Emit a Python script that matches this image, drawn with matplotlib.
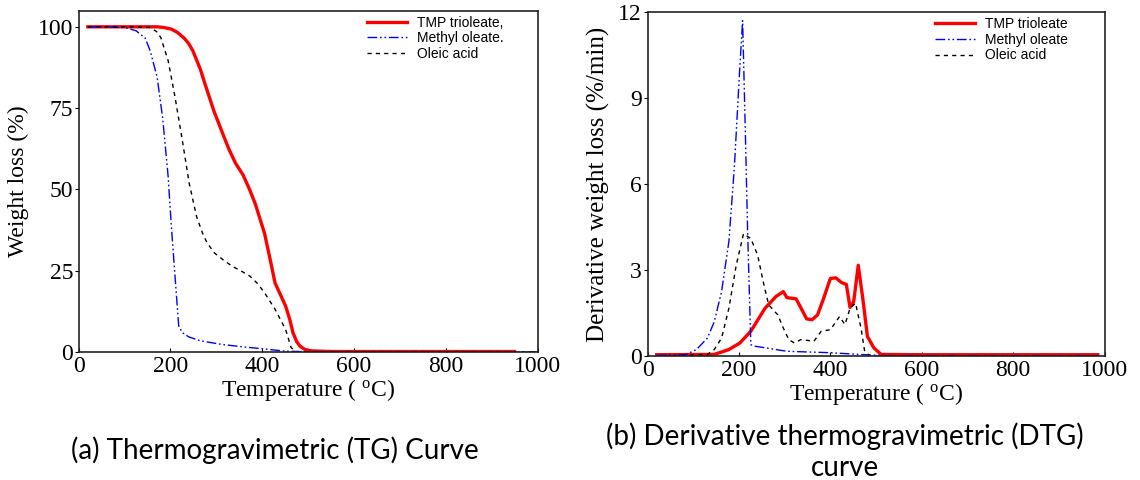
import matplotlib
matplotlib.use("Agg")
import matplotlib.pyplot as plt

# TG curves (temperature in deg C, weight in %)
tg_tmp_t = [20, 100, 170, 185, 202, 215, 230, 240, 249, 265, 280, 295, 311, 327, 342, 358, 373, 385,
            395, 405, 418, 428, 440, 451, 460, 467, 475, 482, 492, 506, 550, 700, 950]
tg_tmp_w = [100, 100, 100, 99.8, 99.3, 98.3, 96.5, 94.8, 92.6, 87, 80.4, 74, 68.2, 62.5, 58, 54.5, 49.8, 45.5,
            41, 36.5, 28, 21.2, 17.5, 14.1, 10, 5.9, 3.2, 1.8, 0.8, 0.3, 0.1, 0.1, 0.1]

tg_mo_t = [20, 100, 125, 145, 156, 171, 183, 195, 202, 210, 218, 226, 240, 265, 311, 360, 397, 451, 500, 1000]
tg_mo_w = [100, 99.8, 98.8, 96.5, 92.6, 84.5, 72, 54, 38.6, 23.3, 8, 5.9, 4.6, 3.4, 2.3, 1.5, 1, 0.2, 0.05, 0]

tg_oa_t = [20, 120, 156, 170, 179, 195, 210, 226, 241, 257, 270, 280, 296, 315, 335, 355, 373, 390,
           405, 428, 451, 463, 475, 600, 1000]
tg_oa_w = [100, 100, 99.8, 98.5, 96.7, 89.6, 78.4, 65, 51.8, 41.6, 36.5, 33.5, 30.4, 28.3, 26.3, 24.8, 23.3, 21,
           18.2, 13.1, 6.9, 1.3, 0, 0, 0]

# DTG curves (temperature in deg C, rate in %/min)
dtg_tmp_t = [20, 146, 178, 202, 226, 257, 281, 297, 305, 325, 336, 348, 360, 372, 384, 400, 412,
             424, 435, 443, 451, 461, 471, 481, 495, 511, 600, 985]
dtg_tmp_r = [0.05, 0.06, 0.23, 0.46, 0.87, 1.67, 2.08, 2.25, 2.04, 2.0, 1.67, 1.3, 1.27, 1.44, 1.96, 2.71, 2.73,
             2.57, 2.5, 1.7, 1.9, 3.17, 2.0, 0.69, 0.29, 0.06, 0.05, 0.05]

dtg_mo_t = [20, 83, 107, 131, 146, 162, 178, 190, 202, 208, 214, 219, 226, 234, 305, 400, 463, 520, 985]
dtg_mo_r = [0.03, 0.05, 0.23, 0.63, 1.2, 2.25, 4.0, 6.6, 10.1, 11.7, 7.8, 4.33, 0.4, 0.35, 0.17, 0.12, 0.06, 0.02, 0.02]

dtg_oa_t = [20, 130, 146, 162, 178, 194, 210, 226, 241, 253, 265, 285, 297, 309, 321, 336, 364, 380,
            400, 420, 432, 443, 455, 467, 475, 487, 985]
dtg_oa_r = [0, 0.05, 0.23, 0.63, 1.67, 3.17, 4.27, 4.1, 3.52, 2.6, 1.79, 1.44, 0.98, 0.58, 0.46, 0.58, 0.52, 0.87,
            0.92, 1.38, 1.1, 1.67, 1.85, 0.98, 0.17, 0, 0]

labels_tg = ["TMP trioleate,", "Methyl oleate.", "Oleic acid"]
labels_dtg = ["TMP trioleate", "Methyl oleate", "Oleic acid"]

serif = "Liberation Serif"
styles = [dict(color="#ff0000", lw=2.4, ls="-"),
          dict(color="#0000ff", lw=1.0, ls=(0, (7, 2, 1.2, 2, 1.2, 2))),
          dict(color="black", lw=1.0, ls=(0, (3, 3)))]

fig = plt.figure(figsize=(11.4, 4.8), dpi=100)
ax1 = fig.add_axes([0.069, 0.267, 0.4025, 0.711])
ax2 = fig.add_axes([0.568, 0.258, 0.401, 0.717])


def style_axes(ax, yticks, ylabel):
    ax.set_xlim(0, 1000)
    ax.set_xticks(range(0, 1001, 200))
    ax.set_yticks(yticks)
    ax.tick_params(axis="x", direction="in", length=3, width=0.8, labelsize=17, pad=3)
    ax.tick_params(axis="y", direction="out", length=3, width=0.8, labelsize=17, pad=1)
    for lab in ax.get_xticklabels() + ax.get_yticklabels():
        lab.set_fontfamily(serif)
    for sp in ax.spines.values():
        sp.set_linewidth(1.2)
        sp.set_color("#222222")
    ax.set_xlabel("Temperature ( $\\mathregular{^{o}}$C)", fontsize=17, family=serif, labelpad=0)
    ax.set_ylabel(ylabel, fontsize=17, family=serif, labelpad=6)


def add_legend(ax):
    ax.legend(loc="upper left", bbox_to_anchor=(0.628, 0.985), frameon=False, handlelength=2.9,
              handletextpad=0.7, borderpad=0, borderaxespad=0, labelspacing=0.12,
              prop={"family": "Liberation Sans", "size": 10})


series_tg = [(tg_tmp_t, tg_tmp_w), (tg_mo_t, tg_mo_w), (tg_oa_t, tg_oa_w)]
for (t, w), st, lab in zip(series_tg, styles, labels_tg):
    ax1.plot(t, w, label=lab, **st)
ax1.set_ylim(0, 105)
style_axes(ax1, [0, 25, 50, 75, 100], "Weight loss (%)")
add_legend(ax1)

series_dtg = [(dtg_tmp_t, dtg_tmp_r), (dtg_mo_t, dtg_mo_r), (dtg_oa_t, dtg_oa_r)]
for (t, r), st, lab in zip(series_dtg, styles, labels_dtg):
    ax2.plot(t, r, label=lab, **st)
ax2.set_ylim(0, 12)
style_axes(ax2, [0, 3, 6, 9, 12], "Derivative weight loss (%/min)")
ax2.yaxis.label.set_size(18)
add_legend(ax2)

fig.text(0.241, 1 - 450 / 480, "(a) Thermogravimetric (TG) Curve", fontsize=20, family="Lato",
         ha="center", va="center")
fig.text(0.741, 1 - 452 / 480, "(b) Derivative thermogravimetric (DTG)\ncurve", fontsize=20, family="Lato",
         ha="center", va="center", linespacing=1.25)

fig.savefig("out.png", dpi=100)
